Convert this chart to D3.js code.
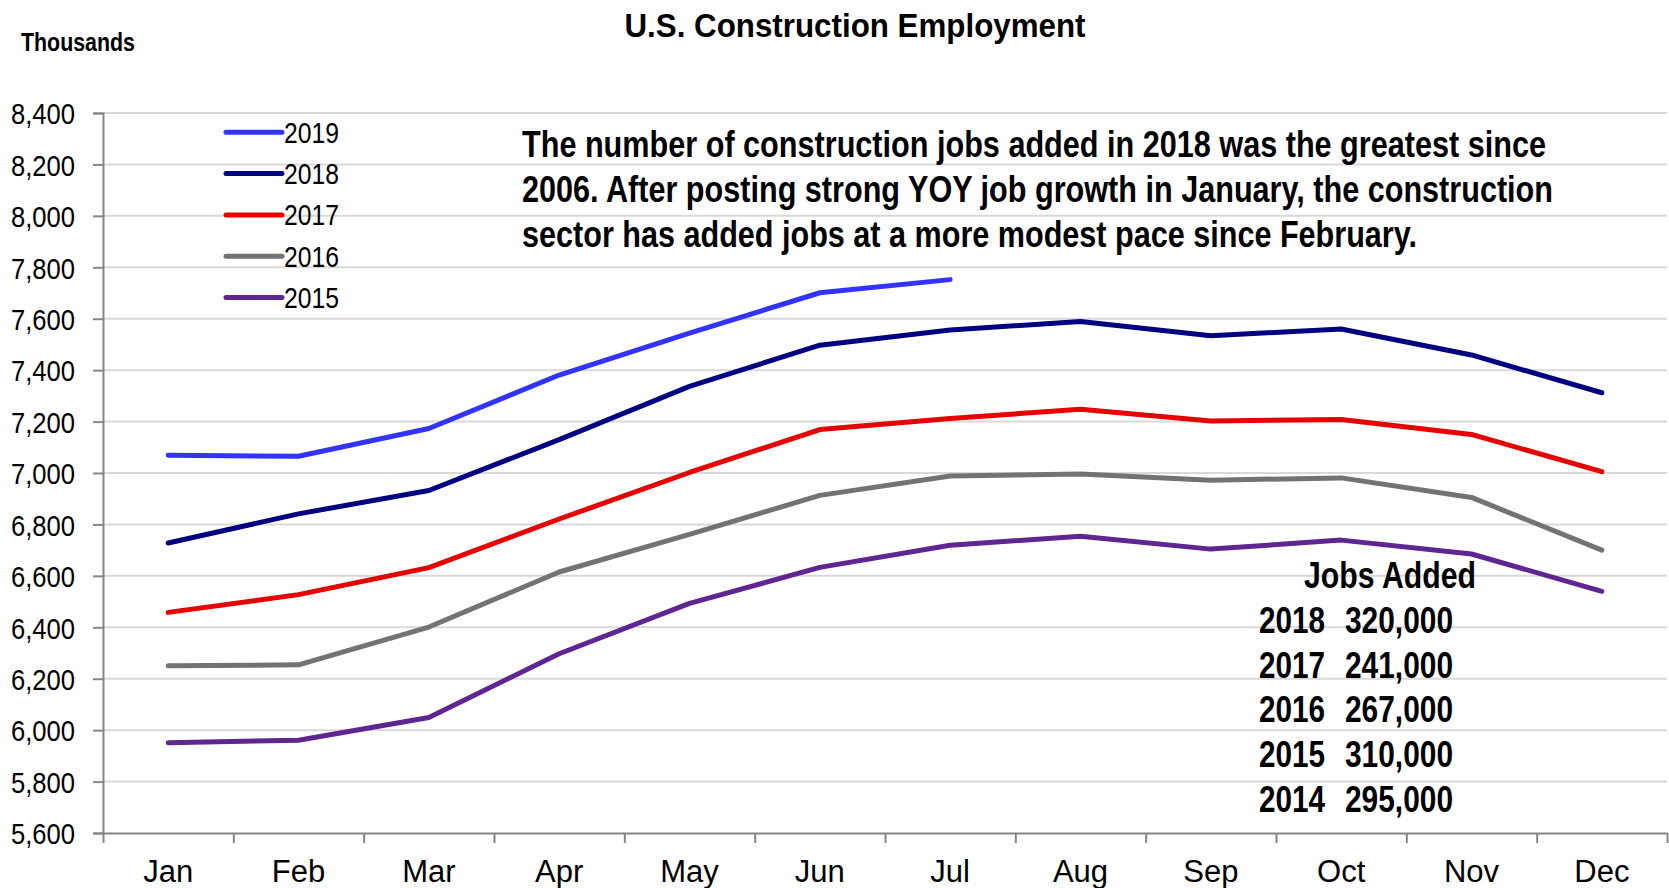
<!DOCTYPE html>
<html><head><meta charset="utf-8">
<script src="https://cdn.jsdelivr.net/npm/d3@7"></script>
<style>
html,body{margin:0;padding:0;background:#fff;}
svg{display:block;}
text{font-family:"Liberation Sans Narrow","Arial Narrow","Liberation Sans",Arial,sans-serif;fill:#000;}
</style></head>
<body>
<svg id="chart" width="1669" height="888"></svg>
<script>
const months = ["Jan","Feb","Mar","Apr","May","Jun","Jul","Aug","Sep","Oct","Nov","Dec"];
const years = ["2019","2018","2017","2016","2015"];
const v2019 = [7069, 7065, 7173, 7381, 7544, 7701, 7752];
const v2018 = [6728, 6841, 6932, 7130, 7337, 7497, 7556, 7589, 7534, 7560, 7459, 7312];
const v2017 = [6458, 6527, 6632, 6821, 7002, 7169, 7212, 7248, 7202, 7208, 7150, 7005];
const v2016 = [6250, 6254, 6401, 6615, 6761, 6913, 6988, 6996, 6972, 6981, 6905, 6700];
const v2015 = [5951, 5961, 6049, 6297, 6493, 6633, 6719, 6754, 6704, 6739, 6685, 6540];
const seriesColors = ["#3333ff", "#000080", "#e60000", "#737373", "#5f2590"];
const yTicks = [5600, 5800, 6000, 6200, 6400, 6600, 6800, 7000, 7200, 7400, 7600, 7800, 8000, 8200, 8400];
const title = "U.S. Construction Employment";
const unitLabel = "Thousands";
const noteLines = [
  "The number of construction jobs added in 2018 was the greatest since",
  "2006. After posting strong YOY job growth in January, the construction",
  "sector has added jobs at a more modest pace since February."
];
const jobsTitle = "Jobs Added";
const jobsYears = ["2018", "2017", "2016", "2015", "2014"];
const jobsValues = ["320,000", "241,000", "267,000", "310,000", "295,000"];

const seriesValues = [v2019, v2018, v2017, v2016, v2015];

const svg = d3.select("#chart");
const L = 103, R = 1667, T = 113, B = 833;

const x = d3.scaleBand().domain(months).range([L, R]).paddingInner(0).paddingOuter(0);
const xc = m => x(m) + x.bandwidth() / 2;
const y = d3.scaleLinear().domain([5600, 8400]).range([B, T]);

// gridlines
svg.append("g").selectAll("line").data(yTicks.filter(t => t > 5600)).join("line")
  .attr("x1", L).attr("x2", R).attr("y1", d => y(d)).attr("y2", d => y(d))
  .attr("stroke", "#d9d9d9").attr("stroke-width", 2);

// y axis
const yAxis = svg.append("g").attr("transform", `translate(${L},0)`)
  .call(d3.axisLeft(y).tickValues(yTicks).tickFormat(d3.format(",")).tickSize(10).tickPadding(18));
yAxis.select(".domain").attr("stroke", "#868686").attr("stroke-width", 2);
yAxis.selectAll(".tick line").attr("stroke", "#868686").attr("stroke-width", 2);
yAxis.selectAll(".tick text").attr("font-size", 30).attr("dy", "0.36em")
  .attr("textLength", 64).attr("lengthAdjust", "spacingAndGlyphs");

// x axis (ticks at band boundaries)
const xBound = d3.scaleLinear().domain([0, 12]).range([L, R]);
const xAxis = svg.append("g").attr("transform", `translate(0,${B})`)
  .call(d3.axisBottom(xBound).tickValues(d3.range(0, 13)).tickFormat("").tickSize(10).tickSizeOuter(0));
xAxis.select(".domain").attr("stroke", "#868686").attr("stroke-width", 2);
xAxis.selectAll(".tick line").attr("stroke", "#868686").attr("stroke-width", 2);

svg.append("g").selectAll("text").data(months).join("text")
  .attr("x", d => xc(d)).attr("y", 882).attr("text-anchor", "middle")
  .attr("font-size", 31).text(d => d);

// lines
const line = d3.line().x((d, i) => xc(months[i])).y(d => y(d));
svg.append("g").selectAll("path").data(seriesValues).join("path")
  .attr("d", d => line(d)).attr("fill", "none")
  .attr("stroke", (d, i) => seriesColors[i]).attr("stroke-width", 5)
  .attr("stroke-linejoin", "round").attr("stroke-linecap", "round");

// legend
const lg = svg.append("g").selectAll("g").data(years).join("g")
  .attr("transform", (d, i) => `translate(0,${132.3 + i * 41.3})`);
lg.append("line").attr("x1", 226).attr("x2", 282).attr("y1", 0).attr("y2", 0)
  .attr("stroke", (d, i) => seriesColors[i]).attr("stroke-width", 5).attr("stroke-linecap", "round");
lg.append("text").attr("x", 284).attr("y", 10.5).attr("font-size", 30).text(d => d)
  .attr("textLength", 55).attr("lengthAdjust", "spacingAndGlyphs");

// title
svg.append("text").attr("x", 855).attr("y", 37.3).attr("text-anchor", "middle")
  .attr("font-size", 33).attr("font-weight", "bold").text(title)
  .attr("textLength", 461).attr("lengthAdjust", "spacingAndGlyphs");
svg.append("text").attr("x", 21).attr("y", 50.5)
  .attr("font-size", 25).attr("font-weight", "bold").text(unitLabel)
  .attr("textLength", 114).attr("lengthAdjust", "spacingAndGlyphs");

// note
const noteWidths = [1024, 1031, 895];
svg.append("g").selectAll("text").data(noteLines).join("text")
  .attr("x", 522).attr("y", (d, i) => 156.7 + i * 45)
  .attr("font-size", 36).attr("font-weight", "bold").text(d => d)
  .attr("textLength", (d, i) => noteWidths[i]).attr("lengthAdjust", "spacingAndGlyphs");

// jobs added
svg.append("text").attr("x", 1304).attr("y", 588).attr("font-size", 36).attr("font-weight", "bold")
  .text(jobsTitle).attr("textLength", 172).attr("lengthAdjust", "spacingAndGlyphs");
const jg = svg.append("g").selectAll("g").data(jobsYears).join("g")
  .attr("transform", (d, i) => `translate(0,${632.7 + i * 44.8})`);
jg.append("text").attr("x", 1259).attr("y", 0).attr("font-size", 36).attr("font-weight", "bold")
  .text(d => d).attr("textLength", 66).attr("lengthAdjust", "spacingAndGlyphs");
jg.append("text").attr("x", 1345).attr("y", 0).attr("font-size", 36).attr("font-weight", "bold")
  .text((d, i) => jobsValues[i]).attr("textLength", 108).attr("lengthAdjust", "spacingAndGlyphs");
</script>
</body></html>
